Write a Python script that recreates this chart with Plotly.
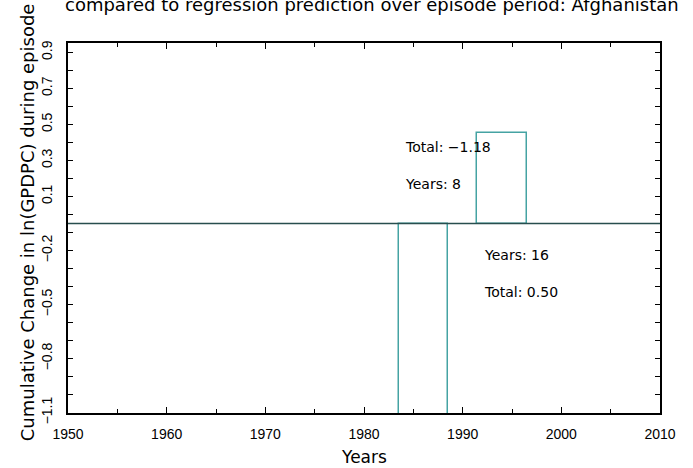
import plotly.graph_objects as go

# ---- data ----
episode_centers = [1986, 1994]          # episode bar centre year
episode_totals = [-1.18, 0.50]          # cumulative change
episode_years = [8, 16]                 # episode length label
baseline = -0.05
bar_width = 5

x_tickvals = [1950, 1960, 1970, 1980, 1990, 2000, 2010]
x_ticktext = ["1950", "1960", "1970", "1980", "1990", "2000", "2010"]
y_tickvals = [0.9, 0.7, 0.5, 0.3, 0.1, -0.2, -0.5, -0.8, -1.1]
y_ticktext = ["0.9", "0.7", "0.5", "0.3", "0.1", "\u22120.2", "\u22120.5", "\u22120.8", "\u22121.1"]

title_text = "compared to regression prediction over episode period: Afghanistan"
ytitle_text = "Cumulative Change in ln(GPDPC) during episode"
xtitle_text = "Years"

TEAL = "#45a3a3"
LINE = "#284e4e"
FONT = "DejaVu Sans"
TFONT = "Liberation Sans"

fig = go.Figure()
fig.add_trace(go.Bar(
    x=episode_centers, y=episode_totals, base=[baseline] * len(episode_totals),
    width=bar_width,
    marker=dict(color="rgba(255,255,255,0)", line=dict(color=TEAL, width=1.5)),
    showlegend=False, hoverinfo="skip",
))

fig.add_shape(type="line", xref="paper", x0=0, x1=1, yref="y", y0=baseline, y1=baseline,
              line=dict(color=LINE, width=1.5), layer="above")

# episode annotations: text placed on the opposite side of the baseline
ann = []
for c, tot, yrs in zip(episode_centers, episode_totals, episode_years):
    tx = c - 2
    if tot < 0:
        ann.append(dict(x=tx, y=0.375, text=f"Total: {tot:.2f}".replace("-", "\u2212")))
        ann.append(dict(x=tx, y=0.172, text=f"Years: {yrs}"))
    else:
        ann.append(dict(x=tx, y=-0.226, text=f"Years: {yrs}"))
        ann.append(dict(x=tx, y=-0.43, text=f"Total: {tot:.2f}"))
for a in ann:
    fig.add_annotation(x=a["x"], y=a["y"], text=a["text"], xref="x", yref="y",
                       xanchor="left", yanchor="middle", showarrow=False,
                       font=dict(family=FONT, size=14, color="black"))

# titles
fig.add_annotation(x=0.5135, y=1.104, xref="paper", yref="paper", text=title_text,
                   showarrow=False, xanchor="center", yanchor="middle",
                   font=dict(family=FONT, size=18, color="black"))
fig.add_annotation(x=-0.069, y=0.516, xref="paper", yref="paper", text=ytitle_text,
                   textangle=-90, showarrow=False, xanchor="center", yanchor="middle",
                   font=dict(family=FONT, size=18, color="black"))
fig.add_annotation(x=0.5, y=-0.12, xref="paper", yref="paper", text=xtitle_text,
                   showarrow=False, xanchor="center", yanchor="middle",
                   font=dict(family=FONT, size=17, color="black"))

fig.update_layout(
    width=693, height=468,
    margin=dict(l=68, r=33, t=43, b=55, autoexpand=False),
    paper_bgcolor="white", plot_bgcolor="white",
    bargap=0,
    xaxis=dict(range=[1950, 2010], tickmode="array", tickvals=x_tickvals, ticktext=x_ticktext,
               ticks="inside", ticklen=6, tickcolor="black", tickwidth=1,
               showline=True, linecolor="black", linewidth=2, mirror="ticks",
               showgrid=False, zeroline=False, automargin=False, ticklabelstandoff=7,
               tickfont=dict(family=TFONT, size=14, color="black"),
               minor=dict(tickmode="linear", tick0=1950, dtick=5, ticks="inside", ticklen=4,
                          tickcolor="black", showgrid=False)),
    yaxis=dict(range=[-1.102, 0.952], tickmode="array", tickvals=y_tickvals, ticktext=y_ticktext,
               ticks="inside", ticklen=5, tickcolor="black", tickwidth=1, tickangle=-90,
               showline=True, linecolor="black", linewidth=2, mirror="ticks",
               showgrid=False, zeroline=False, automargin=False, ticklabelstandoff=8,
               tickfont=dict(family=TFONT, size=14, color="black"),
               minor=dict(tickmode="linear", tick0=0, dtick=0.1, ticks="inside", ticklen=5,
                          tickcolor="black", showgrid=False)),
)

fig.write_html("out.html", config={"displayModeBar": False},
               post_script="document.body.style.margin='0';")
